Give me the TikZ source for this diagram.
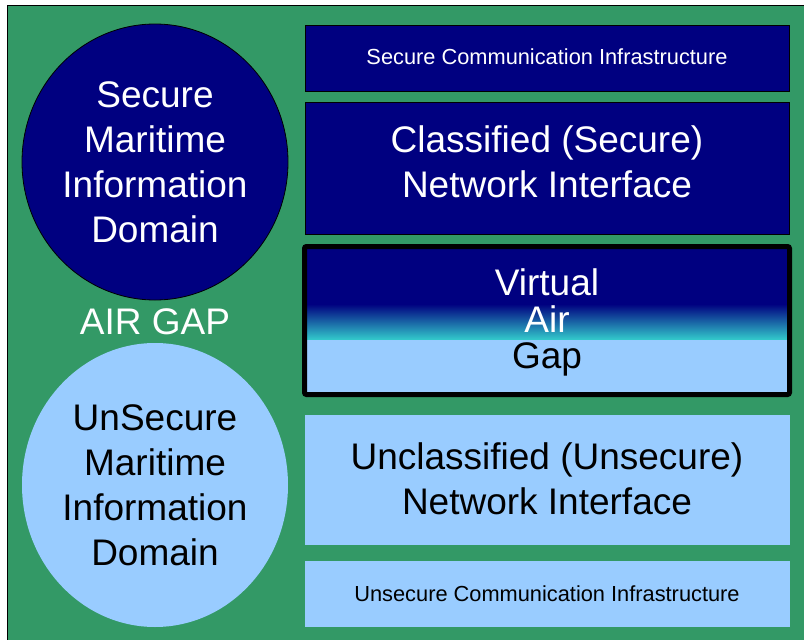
\documentclass[tikz,border=0pt]{standalone}
\usepackage{fontspec}
\setmainfont{Liberation Sans}
\definecolor{seagreen}{HTML}{339966}
\definecolor{navy}{HTML}{000080}
\definecolor{paleblue}{HTML}{99CCFF}
\definecolor{gapcyan}{HTML}{33CCCC}
\tikzset{
  navybox/.style={fill=navy, draw=black, line width=0.8pt},
  lightbox/.style={fill=paleblue},
  bigtext/.style={font=\fontsize{37}{45}\selectfont, align=center, inner sep=0pt},
  smalltext/.style={font=\fontsize{21.8}{25}\selectfont, inner sep=0pt, anchor=base},
}
\begin{document}
\begin{tikzpicture}[x=1pt,y=-1pt]
  \useasboundingbox (0,0) rectangle (804,640);
  \fill[seagreen] (7,5) rectangle (810,645);
  \draw[line width=1pt] (7,645) -- (7,5) -- (810,5);
  % domains
  \draw[navybox] (155,162) ellipse [x radius=133, y radius=138];
  \fill[paleblue] (155,485) ellipse [x radius=133, y radius=142];
  \node[bigtext, text=white] (secdom) at (155,162.5) {Secure\\Maritime\\Information\\Domain};
  \node[bigtext, text=white] (airgap) at (155,322) {AIR GAP};
  \node[bigtext] (unsecdom) at (155,485) {UnSecure\\Maritime\\Information\\Domain};
  % classified side
  \draw[navybox] (305,25) rectangle (789,91);
  \node[smalltext, text=white] (seccomm) at (547,64) {Secure Communication Infrastructure};
  \draw[navybox] (305,102) rectangle (789,234);
  \node[bigtext, text=white] (secnet) at (547,162) {Classified (Secure)\\Network Interface};
  % virtual air gap
  \fill[navy] (307,249) rectangle (787,304);
  \shade[top color=navy, bottom color=gapcyan] (307,304) rectangle (787,340);
  \fill[lightbox] (307,340) rectangle (787,392);
  \draw[line width=5pt, rounded corners=2pt] (304.5,246.5) rectangle (789.5,394.5);
  \node[bigtext, text=white, anchor=base] (virt) at (547,295) {Virtual};
  \node[bigtext, text=white, anchor=base] (air) at (547,332) {Air};
  \node[bigtext, anchor=base] (gap) at (547,368) {Gap};
  % unclassified side
  \fill[lightbox] (305,415) rectangle (790,545);
  \node[bigtext] (unsecnet) at (547,478.5) {Unclassified (Unsecure)\\Network Interface};
  \fill[lightbox] (305,561) rectangle (790,627);
  \node[smalltext] (unseccomm) at (547,601) {Unsecure Communication Infrastructure};
\end{tikzpicture}
\end{document}
